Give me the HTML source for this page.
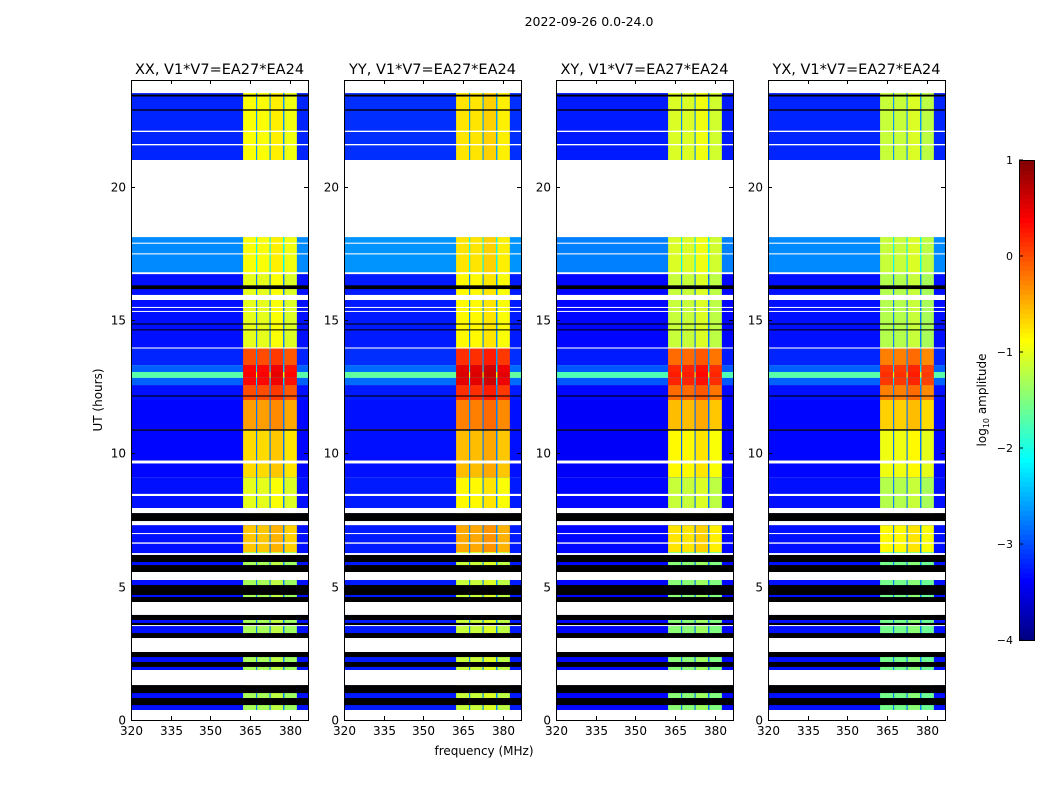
<!DOCTYPE html>
<html><head><meta charset="utf-8">
<style>
body{margin:0;background:#fff;font-family:"Liberation Sans","DejaVu Sans",sans-serif;}
#wrap{position:relative;width:1050px;height:800px;overflow:hidden;}
svg text{font-family:"DejaVu Sans","Liberation Sans",sans-serif;}
</style></head>
<body>
<div id="wrap">
<svg id="fig" width="1050" height="800" xmlns="http://www.w3.org/2000/svg"></svg>
</div>
<script>
// ---- data ----
const panelTitles = ["XX, V1*V7=EA27*EA24","YY, V1*V7=EA27*EA24","XY, V1*V7=EA27*EA24","YX, V1*V7=EA27*EA24"];
const panelBandOffset = [0, 0.15, -0.15, -0.25];
const panelBgOffset = [0, 0.05, -0.05, 0];
const freqTicks = [320,335,350,365,380];
const timeTicks = [0,5,10,15,20];
const cbTicks = [1,0,-1,-2,-3,-4];
// data segments: [tTop, tBottom, backgroundLog, bandLog]
const segTop = [24, 18.11, 16.76, 13.95, 13.31, 13.05, 12.83, 12.56, 12.0, 10.9, 9.1, 7.3, 6.3];
const segBottom = [21, 16.76, 13.95, 13.31, 13.05, 12.83, 12.56, 12.0, 10.9, 9.1, 7.3, 6.3, 0];
const segBg = [-3.2, -2.7, -3.3, -3.2, -2.9, -1.7, -2.9, -3.3, -3.35, -3.35, -3.3, -3.3, -3.3];
const segBand = [-0.9, -0.9, -1.0, 0.0, 0.35, 0.4, 0.35, 0.0, -0.4, -0.7, -1.0, -0.6, -1.3];
// spectral sub-bands (MHz) and relative level
const bandLo = [362.3, 367.6, 372.7, 377.9];
const bandHi = [367.2, 372.3, 377.4, 382.6];
const bandRel = [0, 0, 0.1, -0.05];
// flagged spans (hours)
const whiteSpans = [[24,23.51],[21,18.11],[16.79,16.72],[15.94,15.75],[13.97,13.93],[9.73,9.62],[8.48,8.40],[7.95,7.76],[7.46,7.31],[6.26,6.19],[5.55,5.25],[4.425,3.94],[3.075,2.55],[1.875,1.31],[0.375,0],[22.1,22.05],[21.6,21.55],[17.9,17.86],[17.5,17.46],[15.49,15.46],[15.34,15.31],[7.01,6.98],[6.66,6.61],[3.56,3.53]];
const blackSpans = [[23.45,23.38],[22.9,22.85],[16.3,16.16],[14.87,14.83],[14.65,14.61],[12.17,12.13],[10.9,10.85],[7.76,7.46],[6.19,5.925],[5.81,5.55],[5.06,4.69],[4.61,4.425],[3.94,3.75],[3.64,3.525],[3.26,3.075],[2.55,2.36],[2.175,1.99],[1.31,1.01],[0.825,0.56]];

// ---- layout ----
const NS="http://www.w3.org/2000/svg";
const svg=document.getElementById('fig');
const panelX=[131,344,556,768], PW=177, PT=80, PB=720;
const fMin=320, fMax=386.8, tMin=0, tMax=24;
function mk(tag,attrs,parent){const e=document.createElementNS(NS,tag);for(const k in attrs)e.setAttribute(k,attrs[k]);(parent||svg).appendChild(e);return e;}
function jet(v){let t=(v+4)/5;t=Math.max(0,Math.min(1,t));
  const r=Math.max(0,Math.min(1,1.5-Math.abs(4*t-3)));
  const g=Math.max(0,Math.min(1,1.5-Math.abs(4*t-2)));
  const b=Math.max(0,Math.min(1,1.5-Math.abs(4*t-1)));
  return `rgb(${Math.round(r*255)},${Math.round(g*255)},${Math.round(b*255)})`;}
const yS=t=>PB-(t-tMin)/(tMax-tMin)*(PB-PT);

panelX.forEach((x0,p)=>{
  const xS=f=>x0+(f-fMin)/(fMax-fMin)*PW;
  const g=mk('g',{});
  
  
  for(let i=0;i<segTop.length;i++){
    const y1=yS(segTop[i]),y2=yS(segBottom[i]),bg=segBg[i]+panelBgOffset[p];
    const r=mk('rect',{x:x0,y:y1,width:PW,height:y2-y1,fill:jet(bg)},g);
    
    
    for(let b=0;b<bandLo.length;b++){
      const xa=xS(bandLo[b]),xb=xS(bandHi[b]);
      const c=mk('rect',{x:xa,y:y1,width:xb-xa,height:y2-y1,fill:jet(segBand[i]+bandRel[b]+panelBandOffset[p])},g);
      
      
      if(b<bandLo.length-1){
        const xc=xS(bandLo[b+1]);
        const gap=mk('rect',{x:xb,y:y1,width:xc-xb,height:y2-y1,fill:jet(bg+0.6)},g);
        
        
      }
    }
  }
  blackSpans.forEach(s=>{const r=mk('rect',{x:x0,y:yS(s[0]),width:PW,height:Math.max(1,yS(s[1])-yS(s[0])),fill:'#000'},g);
    
    });
  whiteSpans.forEach(s=>{const r=mk('rect',{x:x0,y:yS(s[0]),width:PW,height:Math.max(1,yS(s[1])-yS(s[0])),fill:'#fff'},g);
    
    });
  const fr=mk('rect',{x:x0+0.5,y:PT+0.5,width:PW,height:PB-PT,fill:'none',stroke:'#000','stroke-width':1},g);
  
  
  const tt=mk('text',{x:x0+PW/2,y:74,'text-anchor':'middle','font-size':14.5,fill:'#000'},g);
  tt.textContent=panelTitles[p];
  
  
  freqTicks.forEach(f=>{const x=Math.round(xS(f))+0.5;
    mk('line',{x1:x,x2:x,y1:PB,y2:PB-4,stroke:'#000'},g);
    mk('line',{x1:x,x2:x,y1:PT,y2:PT+4,stroke:'#000'},g);
    const l=mk('text',{x:x,y:PB+15,'text-anchor':'middle','font-size':12},g);l.textContent=f;
    
    });
  timeTicks.forEach(t=>{const y=Math.round(yS(t))+0.5;
    mk('line',{x1:x0,x2:x0+4,y1:y,y2:y,stroke:'#000'},g);
    mk('line',{x1:x0+PW,x2:x0+PW-4,y1:y,y2:y,stroke:'#000'},g);
    const l=mk('text',{x:x0-5,y:y+4,'text-anchor':'end','font-size':12},g);l.textContent=t;
    
    });
});
// labels
let t=mk('text',{x:589,y:26,'text-anchor':'middle','font-size':12.5});t.textContent='2022-09-26 0.0-24.0';

t=mk('text',{x:484,y:755,'text-anchor':'middle','font-size':12});t.textContent='frequency (MHz)';

t=mk('text',{x:0,y:0,'text-anchor':'middle','font-size':12,transform:'translate(102,400) rotate(-90)'});t.textContent='UT (hours)';

// colorbar
const CX=1019,CW=15,CT=160,CB=640;
const cb=mk('g',{});


const N=100;
for(let i=0;i<N;i++){const v=-4+5*(i+0.5)/N;const y=CB-(i+1)*(CB-CT)/N;
  mk('rect',{x:CX,y:y,width:CW,height:(CB-CT)/N+0.6,fill:jet(v)},cb);}
mk('rect',{x:CX+0.5,y:CT+0.5,width:CW,height:CB-CT,fill:'none',stroke:'#000'},cb);
cbTicks.forEach(v=>{const y=CB-(v+4)/5*(CB-CT);
  mk('line',{x1:CX,x2:CX+4,y1:y,y2:y,stroke:'#000'},cb);
  const l=mk('text',{x:CX-6,y:y+4,'text-anchor':'end','font-size':11},cb);l.textContent=v<0?'\u2212'+(-v):v;
  
  });
t=mk('text',{x:0,y:0,'text-anchor':'middle','font-size':12,transform:'translate(986,400) rotate(-90)'});
t.innerHTML='log<tspan font-size="8" dy="3">10</tspan><tspan dy="-3"> amplitude</tspan>';

</script>
</body></html>
